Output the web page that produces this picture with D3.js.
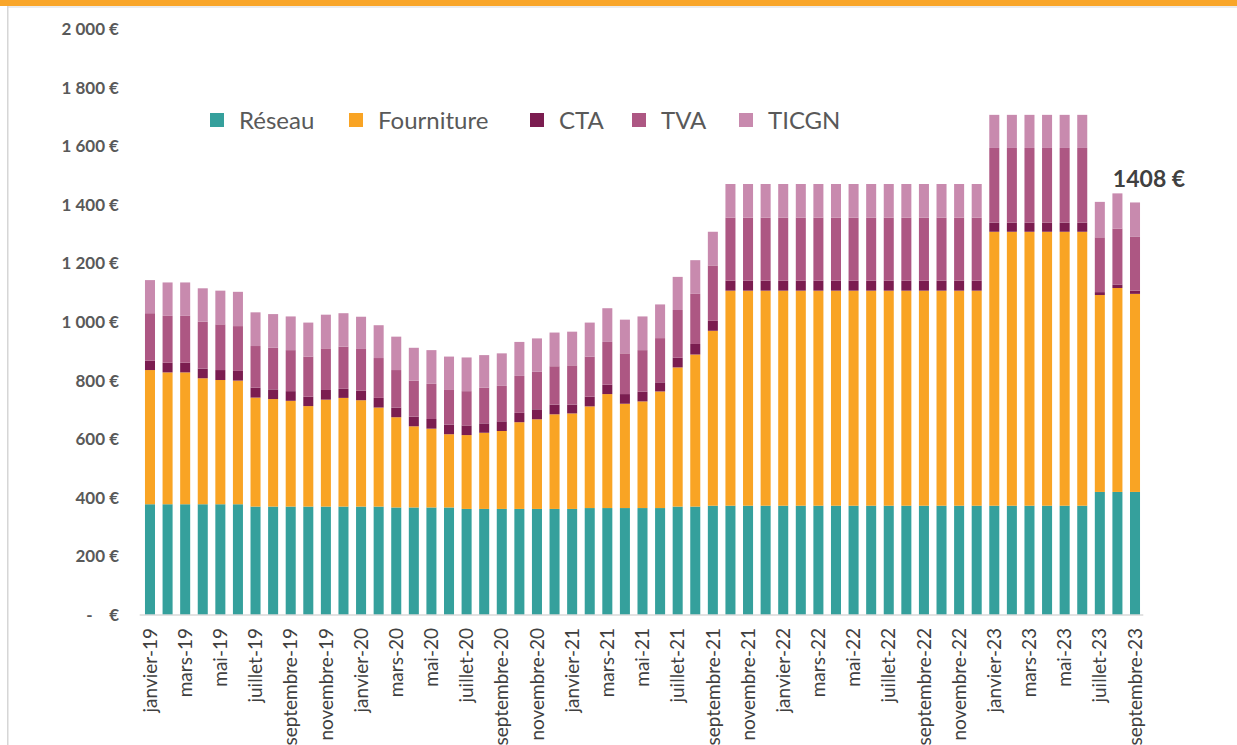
<!DOCTYPE html>
<html lang="fr">
<head>
<meta charset="utf-8">
<script src="https://cdn.jsdelivr.net/npm/d3@7"></script>
<style>
  html, body { margin: 0; padding: 0; background: #ffffff; }
  svg { display: block; }
  text { font-family: Lato, "Open Sans", sans-serif; }
</style>
</head>
<body>
<svg id="chart" width="1237" height="745"></svg>
<script>
// Monthly categories, janvier 2019 to septembre 2023
const monthNames = ["janvier", "février", "mars", "avril", "mai", "juin",
  "juillet", "août", "septembre", "octobre", "novembre", "décembre"];
const years = ["19", "20", "21", "22", "23"];
const months = [];
years.forEach(y => monthNames.forEach(m => months.push(m + "-" + y)));
months.length = 57;

// Series values (€ per year), one entry per month
const reseau = [378, 378, 378, 378, 378, 378, 370, 370, 370, 370, 370, 370,
  370, 370, 367, 367, 367, 367, 362, 362, 362, 362, 362, 362,
  362, 365, 365, 365, 365, 365, 370, 370, 373, 373, 373, 373,
  373, 373, 373, 373, 373, 373, 373, 373, 373, 373, 373, 373,
  373, 373, 373, 373, 373, 373, 420, 420, 420];
const fourniture = [458, 450, 450, 430, 424, 422, 372, 367, 361, 343, 365, 371,
  363, 338, 308, 277, 269, 250, 252, 260, 266, 296, 306, 323,
  326, 347, 389, 356, 364, 398, 475, 519, 597, 734, 734, 734,
  734, 734, 734, 734, 734, 734, 734, 734, 734, 734, 734, 734,
  935, 935, 935, 935, 935, 935, 672, 696, 676];
const cta = [32, 33, 33, 33, 34, 33, 34, 33, 33, 32, 33, 31,
  33, 33, 33, 33, 33, 33, 33, 32, 33, 32, 34, 33,
  30, 33, 32, 33, 33, 31, 33, 36, 34, 34, 34, 34,
  34, 34, 34, 34, 34, 34, 34, 34, 34, 34, 34, 34,
  31, 31, 31, 31, 31, 31, 10, 12, 11];
const tva = [162, 160, 160, 160, 156, 153, 142, 142, 140, 137, 142, 144,
  142, 136, 128, 123, 120, 118, 117, 122, 121, 126, 128, 131,
  134, 137, 146, 139, 142, 151, 163, 171, 189, 215, 215, 215,
  215, 215, 215, 215, 215, 215, 215, 215, 215, 215, 215, 215,
  255, 255, 255, 255, 255, 255, 187, 191, 185];
const ticgn = [113, 114, 114, 114, 115, 117, 115, 115, 115, 116, 115, 114,
  110, 112, 114, 112, 115, 114, 115, 111, 111, 116, 114, 115,
  115, 116, 115, 115, 115, 115, 113, 115, 115, 115, 115, 115,
  115, 115, 115, 115, 115, 115, 115, 115, 115, 115, 115, 115,
  113, 113, 113, 113, 113, 113, 121, 120, 116];

const seriesNames = ["Réseau", "Fourniture", "CTA", "TVA", "TICGN"];
const seriesColors = ["#35a09c", "#f9a424", "#7b1d50", "#ad5783", "#c88aae"];
const yTicks = [0, 200, 400, 600, 800, 1000, 1200, 1400, 1600, 1800, 2000];

// Table for d3.stack built from the arrays above
const seriesValues = [reseau, fourniture, cta, tva, ticgn];
const table = months.map((m, i) => {
  const row = { month: m };
  seriesNames.forEach((s, k) => { row[s] = seriesValues[k][i]; });
  return row;
});
const lastIndex = months.length - 1;
const lastTotal = seriesValues.reduce((acc, arr) => acc + arr[lastIndex], 0);

const svg = d3.select("#chart");

// Page frame: orange band on top, grey rule on the left
svg.append("rect").attr("x", 0).attr("y", 0).attr("width", 1237).attr("height", 6).attr("fill", "#f9a62a");
svg.append("rect").attr("x", 7).attr("y", 6).attr("width", 1230).attr("height", 2).attr("fill", "#ececec");
svg.append("rect").attr("x", 7).attr("y", 6).attr("width", 1.5).attr("height", 739).attr("fill", "#d6d6d6");

const x = d3.scaleBand()
  .domain(months)
  .range([139.7, 1145.3])
  .paddingInner(0.43)
  .paddingOuter(0.3);

const y = d3.scaleLinear().domain([0, 2000]).range([615, 29]);

const stack = d3.stack().keys(seriesNames);
const layers = stack(table);

// Stacked bars
svg.append("g")
  .selectAll("g")
  .data(layers)
  .join("g")
  .attr("fill", (d, i) => seriesColors[i])
  .selectAll("rect")
  .data(d => d)
  .join("rect")
  .attr("x", d => x(d.data.month))
  .attr("width", x.bandwidth())
  .attr("y", d => y(d[1]))
  .attr("height", d => y(d[0]) - y(d[1]));

// Y axis labels (no axis line, no gridlines)
const fr = d3.formatLocale({ decimal: ",", thousands: " ", grouping: [3], currency: ["", " €"] });
const fmt = fr.format(",.0f");
const yAxis = d3.axisLeft(y)
  .tickValues(yTicks)
  .tickSize(0)
  .tickPadding(0)
  .tickFormat(v => v === 0 ? "-\u00a0\u00a0\u00a0\u00a0€" : fmt(v) + " €");
const gy = svg.append("g").attr("transform", "translate(119,0)").call(yAxis);
gy.select(".domain").remove();
gy.selectAll("text")
  .attr("fill", "#595959")
  .attr("font-size", 17)
  .attr("font-weight", "bold")
  .attr("font-family", "Lato, sans-serif");

// X axis: baseline and every second month label, rotated
const xAxis = d3.axisBottom(x)
  .tickSize(0)
  .tickPadding(0)
  .tickValues(months.filter((m, i) => i % 2 === 0));
const gx = svg.append("g").attr("transform", "translate(0,615)").call(xAxis);
gx.select(".domain").attr("stroke", "#d9d9d9").attr("stroke-width", 1.5)
  .attr("d", "M" + (x.range()[0]) + ",0H" + (x.range()[1] - 2));
gx.selectAll("text")
  .attr("fill", "#404040")
  .attr("font-size", 19)
  .attr("font-family", "Lato, sans-serif")
  .attr("text-anchor", "end")
  .attr("dy", "0.35em")
  .attr("transform", "translate(0,13) rotate(-90)")
  .attr("x", 0)
  .attr("y", 0);

// Legend
const legendX = [210, 349, 530, 632, 739];
const legend = svg.append("g").selectAll("g")
  .data(seriesNames)
  .join("g")
  .attr("transform", (d, i) => `translate(${legendX[i]},113)`);
legend.append("rect")
  .attr("width", 14).attr("height", 14)
  .attr("fill", (d, i) => seriesColors[i]);
legend.append("text")
  .attr("x", 29).attr("y", 7)
  .attr("dy", "0.36em")
  .attr("fill", "#595959")
  .attr("font-size", 24)
  .text(d => d);

// Value label for the latest month
svg.append("text")
  .attr("x", x(months[lastIndex]) + x.bandwidth() / 2 + 14)
  .attr("y", y(lastTotal) - 15)
  .attr("text-anchor", "middle")
  .attr("fill", "#404040")
  .attr("font-size", 23)
  .attr("font-weight", "bold")
  .text(lastTotal + " €");
</script>
</body>
</html>
